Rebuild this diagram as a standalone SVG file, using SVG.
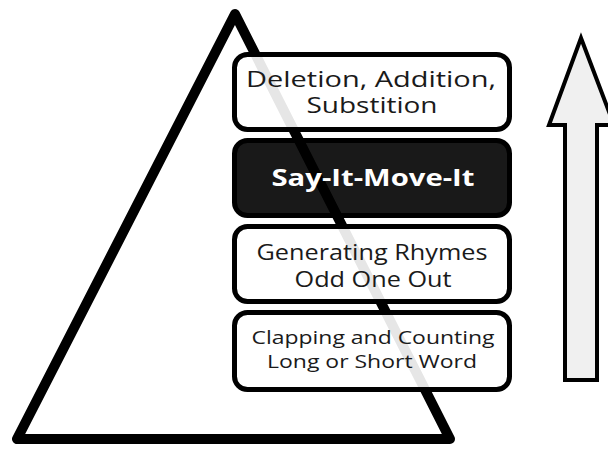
<svg xmlns="http://www.w3.org/2000/svg" width="608" height="449" viewBox="0 0 608 449">
  <style>
    .box { fill: #ffffff; fill-opacity: 0.9; stroke: #000000; stroke-width: 5; }
    .box-dark { fill: #000000; fill-opacity: 0.9; stroke: #000000; stroke-width: 5; }
    .label { font-family: "Open Sans", "Liberation Sans", sans-serif; fill: #1a1a1a; text-anchor: middle; }
    .label-bold { font-family: "Open Sans", "Liberation Sans", sans-serif; font-weight: bold; fill: #ffffff; text-anchor: middle; }
  </style>
  <rect width="608" height="449" fill="#ffffff"/>

  <!-- background pyramid outline -->
  <g id="pyramid">
    <polygon points="235,14 17,439 450,439" fill="none" stroke="#000000" stroke-width="10" stroke-linejoin="round"/>
  </g>

  <!-- upward progress arrow -->
  <g id="arrow">
    <polygon points="581,38 614,125 597,125 597,380 565,380 565,125 549,125" fill="#f0f0f0" stroke="#000000" stroke-width="4"/>
  </g>

  <!-- levels, top to bottom -->
  <g id="level-deletion">
    <rect class="box" x="234.5" y="54.5" width="275" height="75" rx="13"/>
    <text class="label" x="371" y="87" font-size="21" textLength="250" lengthAdjust="spacingAndGlyphs">Deletion, Addition,</text>
    <text class="label" x="372" y="113" font-size="21" textLength="131" lengthAdjust="spacingAndGlyphs">Substition</text>
  </g>

  <g id="level-say-it">
    <rect class="box-dark" x="234.5" y="140.5" width="275" height="75" rx="13"/>
    <text class="label-bold" x="373" y="186" font-size="23" textLength="203" lengthAdjust="spacingAndGlyphs">Say-It-Move-It</text>
  </g>

  <g id="level-rhymes">
    <rect class="box" x="234.5" y="226.5" width="275" height="75" rx="13"/>
    <text class="label" x="372" y="260" font-size="21" textLength="231" lengthAdjust="spacingAndGlyphs">Generating Rhymes</text>
    <text class="label" x="373" y="287" font-size="21" textLength="157" lengthAdjust="spacingAndGlyphs">Odd One Out</text>
  </g>

  <g id="level-clapping">
    <rect class="box" x="234.5" y="312.5" width="275" height="77" rx="13"/>
    <text class="label" x="373" y="344" font-size="19" textLength="243" lengthAdjust="spacingAndGlyphs">Clapping and Counting</text>
    <text class="label" x="372" y="368" font-size="19" textLength="210" lengthAdjust="spacingAndGlyphs">Long or Short Word</text>
  </g>
</svg>
